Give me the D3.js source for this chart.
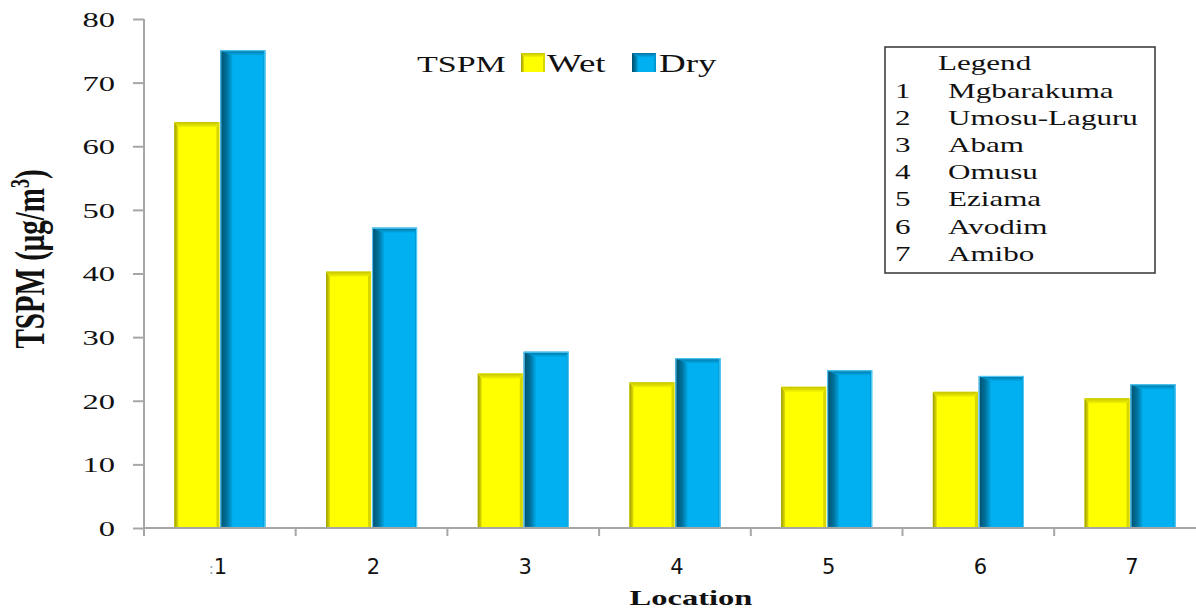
<!DOCTYPE html>
<html>
<head>
<meta charset="utf-8">
<script src="https://cdn.jsdelivr.net/npm/d3@7"></script>
<style>
  html, body { margin: 0; padding: 0; background: #fff; }
  svg { display: block; }
</style>
</head>
<body>
<div id="chart"></div>
<script>
// TSPM concentration by location, wet vs dry season
const categories = ["1", "2", "3", "4", "5", "6", "7"];
const tickLabels = [":1", "2", "3", "4", "5", "6", "7"];
const wetValues = [63.8, 40.3, 24.3, 22.9, 22.2, 21.4, 20.4];
const dryValues = [75.1, 47.2, 27.7, 26.7, 24.8, 23.9, 22.6];
const seriesNames = ["Wet", "Dry"];
const yTicks = [0, 10, 20, 30, 40, 50, 60, 70, 80];
const legendNumbers = ["1", "2", "3", "4", "5", "6", "7"];
const legendNames = ["Mgbarakuma", "Umosu-Laguru", "Abam", "Omusu", "Eziama", "Avodim", "Amibo"];

const W = 1196, H = 611;
const SX = 1.48; // horizontal stretch applied to serif text
const serif = "'Liberation Serif', 'Times New Roman', serif";

const svg = d3.select("#chart").append("svg")
  .attr("width", W).attr("height", H);

const defs = svg.append("defs");
function grad(id, stops, x2, y2) {
  const g = defs.append("linearGradient").attr("id", id)
    .attr("x1", 0).attr("y1", 0).attr("x2", x2).attr("y2", y2);
  stops.forEach(s => g.append("stop").attr("offset", s[0]).attr("stop-color", s[1]));
}
grad("yLeft", [[0, "#9c9c00"], [1, "#e2e200"]], 1, 0);
grad("yTop", [[0, "#c4c400"], [1, "#f2f200"]], 0, 1);
grad("bLeft", [[0, "#004e6c"], [0.55, "#00729c"], [1, "#00a6e4"]], 1, 0);
grad("bTop", [[0, "#0072a0"], [1, "#00a8e6"]], 0, 1);

const styles = {
  Wet: { fill: "#ffff00", left: "url(#yLeft)", top: "url(#yTop)", right: "#d6d600", lw: 4, th: 5, rw: 3, stroke: null },
  Dry: { fill: "#00b0f0", left: "url(#bLeft)", top: "url(#bTop)", right: "#0098d0", lw: 12, th: 5, rw: 2, stroke: "#5fd3ff" }
};

// Bevelled bar: main face plus left, top and right facets
function bevelBar(g, x, y, w, h, st) {
  const lw = Math.min(st.lw, w / 3), th = Math.min(st.th, h / 2), rw = st.rw;
  g.append("rect").attr("x", x).attr("y", y).attr("width", w).attr("height", h).attr("fill", st.fill);
  g.append("polygon").attr("fill", st.left)
    .attr("points", [[x, y], [x + lw, y + th], [x + lw, y + h], [x, y + h]].map(p => p.join(",")).join(" "));
  g.append("polygon").attr("fill", st.right)
    .attr("points", [[x + w, y], [x + w, y + h], [x + w - rw, y + h], [x + w - rw, y + th]].map(p => p.join(",")).join(" "));
  g.append("polygon").attr("fill", st.top)
    .attr("points", [[x, y], [x + w, y], [x + w - rw, y + th], [x + lw, y + th]].map(p => p.join(",")).join(" "));
  if (st.stroke) {
    g.append("rect").attr("x", x + 0.5).attr("y", y + 0.5).attr("width", w - 1).attr("height", h - 1)
      .attr("fill", "none").attr("stroke", st.stroke).attr("stroke-width", 1.2).attr("opacity", 0.85);
  }
}

const plotLeft = 144, plotTop = 19, plotBottom = 528, plotRight = 144 + 7 * 151.7;

const x0 = d3.scaleBand().domain(categories).range([plotLeft, plotRight])
  .paddingInner(0.4).paddingOuter(0.2);
const x1 = d3.scaleBand().domain(seriesNames).range([0, x0.bandwidth()]).paddingInner(0.02);
const y = d3.scaleLinear().domain([0, 80]).range([plotBottom, plotTop]);

const rows = categories.map((c, i) => ({ cat: c, Wet: wetValues[i], Dry: dryValues[i] }));

// Bars
const barsG = svg.append("g");
rows.forEach(r => {
  seriesNames.forEach(s => {
    const bx = x0(r.cat) + x1(s);
    const by = y(r[s]);
    bevelBar(barsG, bx, by, x1.bandwidth(), y(0) - by, styles[s]);
  });
});

// Y axis
const yAxis = svg.append("g").attr("transform", `translate(${plotLeft},0)`)
  .call(d3.axisLeft(y).tickValues(yTicks).tickSize(11).tickSizeOuter(0));
yAxis.select(".domain").attr("stroke", "#a6a6a6").attr("stroke-width", 2)
  .attr("d", `M0,${plotTop}V${plotBottom + 8}`);
yAxis.selectAll(".tick line").attr("stroke", "#a6a6a6").attr("stroke-width", 2);
yAxis.selectAll(".tick text")
  .attr("font-family", serif).attr("font-size", 22).attr("fill", "#111")
  .attr("x", -29 / SX).attr("dy", "0.34em")
  .attr("transform", `scale(${SX},1)`);

// X axis: baseline, category boundary ticks and labels
const xg = svg.append("g");
xg.append("line").attr("x1", plotLeft).attr("x2", plotRight).attr("y1", plotBottom).attr("y2", plotBottom)
  .attr("stroke", "#a6a6a6").attr("stroke-width", 2);
const half = (x0.step() - x0.bandwidth()) / 2;
const bounds = categories.map(c => x0(c) - half).concat([plotRight]);
xg.selectAll("line.b").data(bounds).join("line").attr("class", "b")
  .attr("x1", d => d).attr("x2", d => d).attr("y1", plotBottom).attr("y2", plotBottom + 8)
  .attr("stroke", "#a6a6a6").attr("stroke-width", 2);
const xl = xg.selectAll("text.xl").data(categories).join("text").attr("class", "xl")
  .attr("x", (d, i) => x0(d) + x0.bandwidth() / 2 + 2 - (tickLabels[i].startsWith(":") ? 4 : 0))
  .attr("y", 574)
  .attr("text-anchor", "middle")
  .attr("font-family", "'DejaVu Sans', Verdana, sans-serif").attr("font-size", 21).attr("fill", "#111");
xl.each(function (d, i) {
  const t = d3.select(this), lab = tickLabels[i];
  if (lab.startsWith(":")) {
    t.append("tspan").attr("fill", "#8aa6bd").attr("font-size", 15).text(":");
    t.append("tspan").text(lab.slice(1));
  } else {
    t.text(lab);
  }
});

// Axis titles
function stretchedText(g, x, yy, txt, size, weight, anchor) {
  return g.append("text")
    .attr("transform", `translate(${x},${yy}) scale(${SX},1)`)
    .attr("text-anchor", anchor || "start")
    .attr("font-family", serif).attr("font-size", size)
    .attr("font-weight", weight || "normal").attr("fill", "#111").text(txt);
}
stretchedText(svg, 691, 605, "Location", 22, "bold", "middle");

const yTitle = svg.append("text")
  .attr("transform", `translate(44,259) scale(${SX},1) rotate(-90)`)
  .attr("text-anchor", "middle")
  .attr("font-family", serif).attr("font-size", 29).attr("font-weight", "bold").attr("fill", "#111");
yTitle.append("tspan").text("TSPM (μg/m");
yTitle.append("tspan").attr("font-size", 18).attr("dy", "-0.55em").text("3");
yTitle.append("tspan").attr("dy", "0.35em").text(")");

// Series legend
const lg = svg.append("g");
stretchedText(lg, 417, 72, "TSPM", 23, "normal");
const swatches = [{ name: "Wet", x: 521, tx: 547 }, { name: "Dry", x: 632, tx: 659 }];
swatches.forEach(s => {
  const st = Object.assign({}, styles[s.name], { lw: s.name === "Dry" ? 6 : 3, th: 4, rw: 2, stroke: null });
  bevelBar(lg, s.x, 53, 24, 19, st);
  stretchedText(lg, s.tx, 72, s.name, 25, "normal");
});

// Location key box
const kg = svg.append("g");
kg.append("rect").attr("x", 885).attr("y", 47).attr("width", 270).attr("height", 226)
  .attr("fill", "#fff").attr("stroke", "#333").attr("stroke-width", 1.5);
stretchedText(kg, 938, 70, "Legend", 21, "normal");
legendNames.forEach((n, i) => {
  const by = 97.5 + i * 27.2;
  stretchedText(kg, 895, by, legendNumbers[i], 21, "normal");
  stretchedText(kg, 948, by, n, 21, "normal");
});
</script>
</body>
</html>
